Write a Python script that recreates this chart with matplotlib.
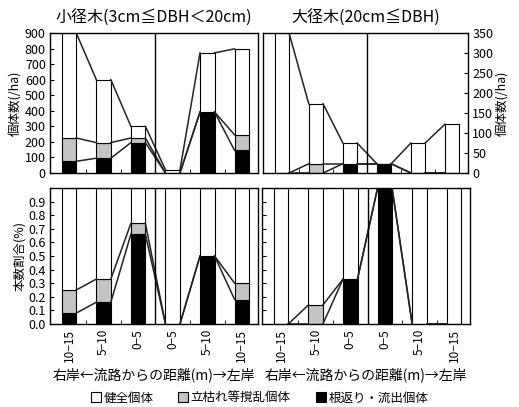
import numpy as np
import matplotlib
matplotlib.use('Agg')
import matplotlib.pyplot as plt
from matplotlib.patches import Patch

plt.rcParams['font.family'] = ['Noto Sans CJK JP', 'DejaVu Sans']

categories = ['10−15', '5−10', '0−5', '0−5', '5−10', '10−15']

# 個体数 (/ha)
small_black = [75, 95, 195, 0, 392, 145]
small_gray = [150, 100, 30, 0, 0, 100]
small_total = [900, 600, 300, 20, 772, 798]

large_black = [0, 0, 23, 23, 0, 0]
large_gray = [0, 23, 0, 0, 0, 0]
large_total = [350, 173, 75, 23, 75, 122]

# 本数割合
ratio_small_black = [0.08, 0.16, 0.66, 0.0, 0.50, 0.18]
ratio_small_gray = [0.17, 0.17, 0.08, 0.0, 0.0, 0.12]
ratio_large_black = [0.0, 0.0, 0.33, 1.0, 0.0, 0.0]
ratio_large_gray = [0.0, 0.14, 0.0, 0.0, 0.0, 0.0]

GRAY = '#c4c4c4'
W = 0.42


def draw_panel(ax, black, gray, total):
    x = np.arange(len(black))
    black = np.array(black, float)
    gray = np.array(gray, float)
    total = np.array(total, float)
    top_gray = black + gray
    white = total - top_gray
    kw = dict(width=W, edgecolor='black', linewidth=0.8)
    ax.bar(x, black, color='black', **kw)
    ax.bar(x, gray, bottom=black, color=GRAY, **kw)
    ax.bar(x, white, bottom=top_gray, color='white', **kw)
    # lines joining the layers of neighbouring bars
    for level in (black, top_gray, total):
        for i in range(len(x) - 1):
            ax.plot([x[i] + W / 2, x[i + 1] - W / 2], [level[i], level[i + 1]],
                    color='#222222', linewidth=1.1)
    ax.axvline(2.5, color='black', linewidth=1.0)
    ax.set_xlim(-0.55, 5.47)
    ax.set_xticks(x)
    ax.set_xticks(x[:-1] + 0.5, minor=True)
    ax.tick_params(axis='x', which='major', length=0)
    ax.tick_params(axis='x', which='minor', direction='in', length=3)
    ax.tick_params(axis='y', direction='in', length=3, labelsize=9, pad=3)
    for s in ax.spines.values():
        s.set_linewidth(1.0)


fig = plt.figure(figsize=(5.19, 4.07), dpi=100)
ax_tl = fig.add_axes([0.0963, 0.575, 0.401, 0.344])
ax_tr = fig.add_axes([0.507, 0.575, 0.395, 0.344])
ax_bl = fig.add_axes([0.0963, 0.204, 0.401, 0.334])
ax_br = fig.add_axes([0.505, 0.204, 0.401, 0.334])

draw_panel(ax_tl, small_black, small_gray, small_total)
ax_tl.set_ylim(0, 900)
ax_tl.set_yticks(np.arange(0, 901, 100))
ax_tl.set_xticklabels([])
ax_tl.set_ylabel('個体数(/ha)', fontsize=9, labelpad=2)
ax_tl.set_title('小径木(3cm≦DBH＜20cm)', fontsize=11.5, pad=7)

draw_panel(ax_tr, large_black, large_gray, large_total)
ax_tr.set_ylim(0, 350)
ax_tr.set_yticks(np.arange(0, 351, 50))
ax_tr.set_xticklabels([])
ax_tr.yaxis.tick_right()
ax_tr.yaxis.set_label_position('right')
ax_tr.set_ylabel('個体数(/ha)', fontsize=9, labelpad=2)
ax_tr.set_title('大径木(20cm≦DBH)', fontsize=11.5, pad=7)

ratio_ticks = np.arange(0, 0.95, 0.1)

draw_panel(ax_bl, ratio_small_black, ratio_small_gray, [1.0] * 6)
ax_bl.set_ylim(0, 1.0)
ax_bl.set_yticks(ratio_ticks)
ax_bl.set_yticklabels([f'{t:.1f}' for t in ratio_ticks])
ax_bl.set_ylabel('本数割合(%)', fontsize=9, labelpad=2)
ax_bl.set_xticklabels(categories, rotation=90, fontsize=8.5)
ax_bl.set_xlabel('右岸←流路からの距離(m)→左岸', fontsize=10, labelpad=4)

draw_panel(ax_br, ratio_large_black, ratio_large_gray, [1.0] * 6)
ax_br.set_ylim(0, 1.0)
ax_br.set_yticks(ratio_ticks)
ax_br.set_yticklabels([])
ax_br.set_xticklabels(categories, rotation=90, fontsize=8.5)
ax_br.set_xlabel('右岸←流路からの距離(m)→左岸', fontsize=10, labelpad=4)

handles = [Patch(facecolor='white', edgecolor='black', linewidth=0.8, label='健全個体'),
           Patch(facecolor=GRAY, edgecolor='black', linewidth=0.8, label='立枯れ等撹乱個体'),
           Patch(facecolor='black', edgecolor='black', linewidth=0.8, label='根返り・流出個体')]
fig.legend(handles=handles, loc='center', bbox_to_anchor=(0.5, 0.022), ncol=3,
           frameon=False, fontsize=9, handlelength=0.8, handleheight=0.8,
           handletextpad=0.2, columnspacing=2.0)

fig.savefig('out.png', dpi=100)
